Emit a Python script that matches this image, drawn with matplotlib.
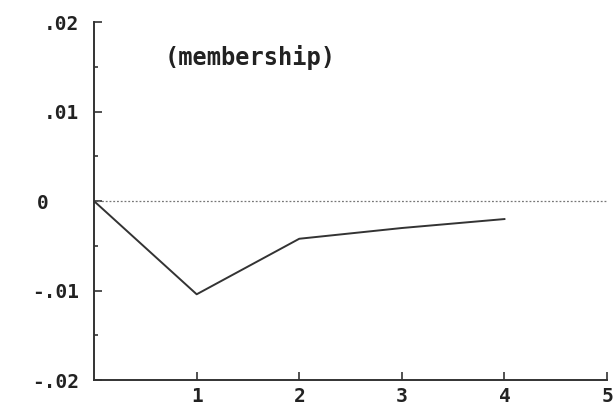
import matplotlib.pyplot as plt
import matplotlib.transforms as mtransforms
from matplotlib.ticker import FixedLocator

# impulse response (membership)
periods = [0, 1, 2, 3, 4]
response = [0.0, -0.0104, -0.0042, -0.003, -0.002]

x_ticks = [1, 2, 3, 4, 5]
x_labels = ["1", "2", "3", "4", "5"]
y_ticks = [-0.02, -0.01, 0.0, 0.01, 0.02]
y_labels = ["-.02", "-.01", "0", ".01", ".02"]
y_minor = [-0.015, -0.005, 0.005, 0.015]

mono = {"family": "DejaVu Sans Mono", "weight": "bold"}

fig = plt.figure(figsize=(6.15, 4.08), dpi=100)
ax = fig.add_axes([0.153, 0.068, 0.834, 0.878])

ax.axhline(0, color="#777777", lw=0.9, ls=(0, (1.5, 1.5)))
ax.plot(periods, response, color="#333333", lw=1.4)

ax.set_xlim(0, 5)
ax.set_ylim(-0.02, 0.02)
ax.set_xticks(x_ticks)
ax.set_xticklabels(x_labels, fontdict=mono, fontsize=14, color="#222222")
ax.set_yticks(y_ticks)
ax.set_yticklabels(y_labels, fontdict=mono, fontsize=14, color="#222222")
ax.yaxis.set_minor_locator(FixedLocator(y_minor))

ax.tick_params(axis="both", which="major", direction="in", length=6, width=1.2, color="#333333")
ax.tick_params(axis="y", which="major", pad=11)
ax.tick_params(axis="x", which="major", pad=5)
ax.tick_params(axis="y", which="minor", direction="in", length=3, width=1.2, color="#333333")

# the "0" label sits under the decimal points, not right-aligned
zero_shift = mtransforms.ScaledTranslation(-30 / 100, 0, fig.dpi_scale_trans)
for lab in ax.get_yticklabels():
    if lab.get_text() == "0":
        lab.set_transform(lab.get_transform() + zero_shift)

for side in ["top", "right"]:
    ax.spines[side].set_visible(False)
for side in ["left", "bottom"]:
    ax.spines[side].set_color("#333333")
    ax.spines[side].set_linewidth(1.4)

ax.text(0.69, 0.016, "(membership)", fontdict=mono, fontsize=17, color="#222222",
        ha="left", va="center")

fig.savefig("out.png", dpi=100)
